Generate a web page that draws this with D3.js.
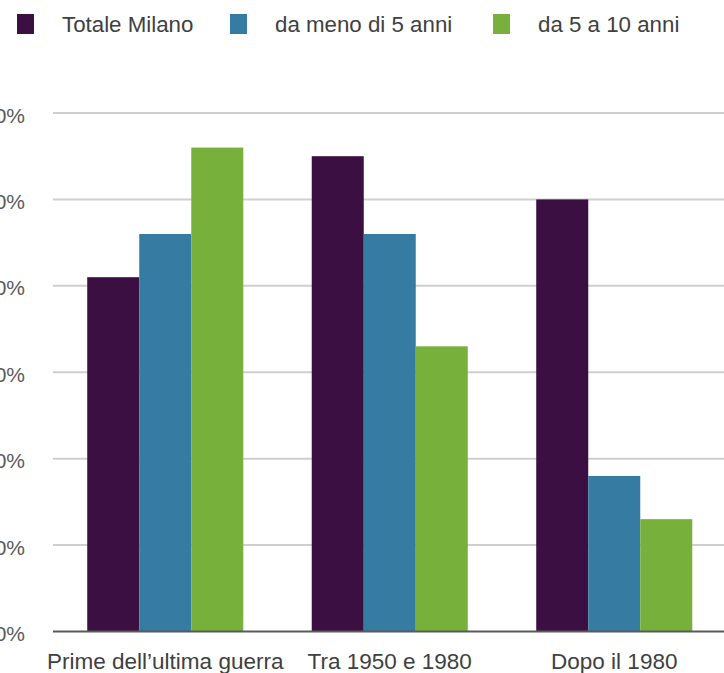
<!DOCTYPE html>
<html>
<head>
<meta charset="utf-8">
<script src="https://cdn.jsdelivr.net/npm/d3@7"></script>
<style>
  html, body { margin: 0; padding: 0; background: #fff; }
  svg { display: block; }
  text { font-family: "Liberation Sans", Arial, sans-serif; fill: #404040; }
</style>
</head>
<body>
<div id="chart"></div>
<script>
// Periods of construction (x categories)
const categories = ["Prime dell\u2019ultima guerra", "Tra 1950 e 1980", "Dopo il 1980"];
// Series names and colours
const seriesNames = ["Totale Milano", "da meno di 5 anni", "da 5 a 10 anni"];
const seriesColors = ["#3c0f42", "#367ba1", "#77b13b"];
// Percentages per series, one value per category
const totaleMilano = [41, 55, 50];
const menoDi5Anni = [46, 46, 18];
const da5a10Anni = [56, 33, 13];
const seriesValues = [totaleMilano, menoDi5Anni, da5a10Anni];
// Y axis tick values (percent)
const yTicks = [0, 10, 20, 30, 40, 50, 60];

const width = 724, height = 673;
const svg = d3.select("#chart").append("svg")
  .attr("width", width).attr("height", height);

const y = d3.scaleLinear().domain([0, 60]).range([631.5, 113]);
const x0 = d3.scaleBand().domain(categories).range([53, 726.5])
  .paddingInner(0.305).paddingOuter(0.1525);
const x1 = d3.scaleBand().domain(seriesNames).range([0, x0.bandwidth()]);

// Horizontal gridlines
svg.append("g").selectAll("line")
  .data(yTicks.filter(d => d > 0))
  .join("line")
  .attr("x1", 53).attr("x2", width)
  .attr("y1", d => y(d)).attr("y2", d => y(d))
  .attr("stroke", "#cfcfcf").attr("stroke-width", 2);

// Y tick labels (the frame's left edge clips the tens digit)
svg.append("g").selectAll("text")
  .data(yTicks)
  .join("text")
  .attr("x", 25).attr("y", d => y(d) + 2)
  .attr("dy", "0.36em")
  .attr("text-anchor", "end")
  .style("font-size", "21px")
  .style("fill", "#5a5a5a")
  .text(d => d + "%");

// Bars
const groups = svg.append("g").selectAll("g")
  .data(categories)
  .join("g")
  .attr("transform", d => `translate(${x0(d)},0)`);

groups.selectAll("rect")
  .data((c, ci) => seriesNames.map((s, si) => ({ s, v: seriesValues[si][ci], si })))
  .join("rect")
  .attr("x", d => x1(d.s))
  .attr("width", x1.bandwidth())
  .attr("y", d => y(d.v))
  .attr("height", d => y(0) - y(d.v))
  .attr("fill", d => seriesColors[d.si]);

// Baseline
svg.append("line")
  .attr("x1", 53).attr("x2", width)
  .attr("y1", y(0)).attr("y2", y(0))
  .attr("stroke", "#5a5a5a").attr("stroke-width", 2);

// Category labels
svg.append("g").selectAll("text")
  .data(categories)
  .join("text")
  .attr("x", d => x0(d) + x0.bandwidth() / 2)
  .attr("y", 669)
  .attr("text-anchor", "middle")
  .style("font-size", "22.5px")
  .text(d => d);

// Legend
const legendX = [17, 230, 493];
const legend = svg.append("g").selectAll("g")
  .data(seriesNames)
  .join("g")
  .attr("transform", (d, i) => `translate(${legendX[i]},14)`);
legend.append("rect")
  .attr("width", 17).attr("height", 20)
  .attr("fill", (d, i) => seriesColors[i]);
legend.append("text")
  .attr("x", 45).attr("y", 10)
  .attr("dy", "0.36em")
  .style("font-size", "22.3px")
  .text(d => d);
</script>
</body>
</html>
